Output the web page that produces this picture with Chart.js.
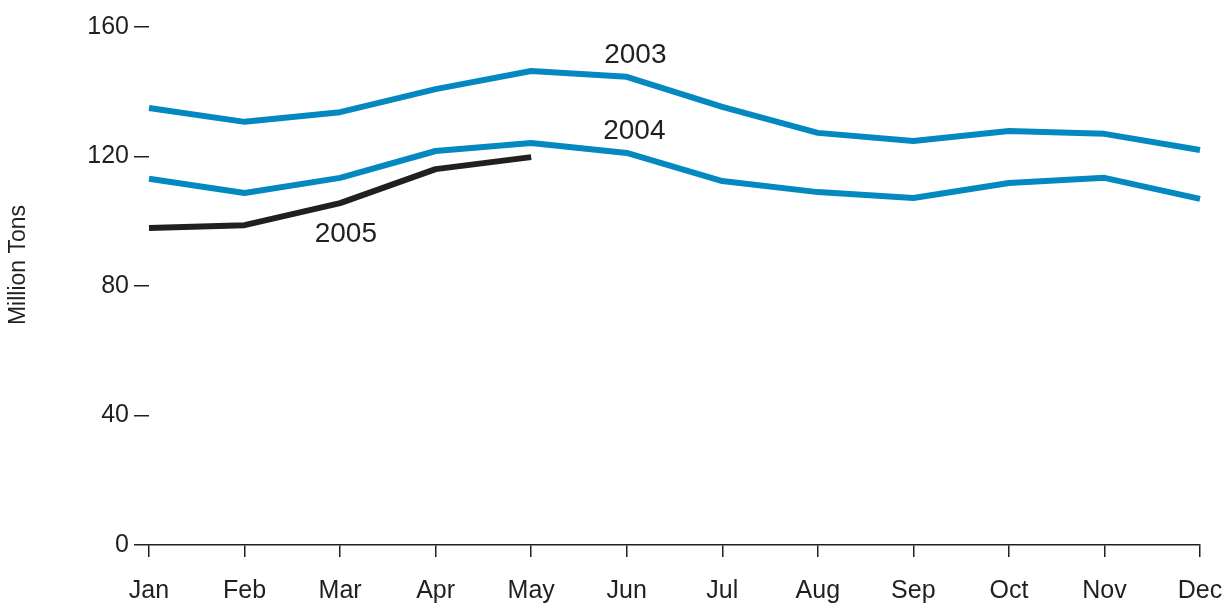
<!DOCTYPE html>
<html>
<head>
<meta charset="utf-8">
<script src="https://cdn.jsdelivr.net/npm/chart.js@4"></script>
<style>
  html, body { margin: 0; padding: 0; background: #fff; }
  #wrap { width: 1228px; height: 603px; position: relative; }
</style>
</head>
<body>
<div id="wrap"><canvas id="myChart"></canvas></div>
<script>
// months on the x axis
var months = ['Jan', 'Feb', 'Mar', 'Apr', 'May', 'Jun', 'Jul', 'Aug', 'Sep', 'Oct', 'Nov', 'Dec'];

// million tons
var y2003 = [135.0, 130.7, 133.7, 140.8, 146.4, 144.6, 135.3, 127.3, 124.8, 127.9, 127.0, 122.0];
var y2004 = [113.1, 108.7, 113.4, 121.7, 124.2, 121.1, 112.4, 109.0, 107.2, 111.8, 113.4, 106.9];
var y2005 = [97.9, 98.8, 105.6, 116.1, 119.8];

var yTicks = [0, 40, 80, 120, 160];

// series labels, placed in data units (month index, value)
var seriesLabels = [
    { text: '2003', month: 5.09, value: 151.3 },
    { text: '2004', month: 5.08, value: 127.9 },
    { text: '2005', month: 2.06, value: 96.1 }
];

var ink = '#231f20';
var blue = '#0389c0';
var font = 'Liberation Sans, Arial, Helvetica, sans-serif';

// draws the year labels and the rotated y title
var textPlugin = {
    id: 'textPlugin',
    afterDatasetsDraw: function(chart) {
        var ctx = chart.ctx;
        var xs = chart.scales.x, ys = chart.scales.y;
        ctx.save();
        ctx.fillStyle = ink;
        ctx.font = '28px ' + font;
        ctx.textAlign = 'center';
        ctx.textBaseline = 'middle';
        seriesLabels.forEach(function(l) {
            ctx.fillText(l.text, xs.getPixelForValue(l.month), ys.getPixelForValue(l.value));
        });
        ctx.font = '23px ' + font;
        ctx.translate(19, 265);
        ctx.rotate(-Math.PI / 2);
        ctx.fillText('Million Tons', 0, 0);
        ctx.restore();
    }
};

var ctx = document.getElementById('myChart').getContext('2d');
var myChart = new Chart(ctx, {
    type: 'line',
    data: {
        labels: months,
        datasets: [
            { label: '2003', data: y2003, borderColor: blue },
            { label: '2004', data: y2004, borderColor: blue },
            { label: '2005', data: y2005, borderColor: ink }
        ]
    },
    options: {
        responsive: true,
        maintainAspectRatio: false,
        animation: false,
        layout: { padding: { top: 27, right: 28, left: 0, bottom: 0 } },
        elements: {
            line: { borderWidth: 6, tension: 0, borderCapStyle: 'butt', borderJoinStyle: 'round', fill: false },
            point: { radius: 0, hoverRadius: 0 }
        },
        plugins: {
            legend: { display: false },
            tooltip: { enabled: false }
        },
        scales: {
            x: {
                offset: false,
                afterFit: function(scale) {
                    scale.height = 58;
                    scale.paddingLeft = 0;
                    scale.paddingRight = 0;
                },
                border: { display: true, color: ink, width: 1.5 },
                grid: { drawOnChartArea: false, tickLength: 12, color: ink, lineWidth: 1.5 },
                ticks: { color: ink, font: { family: font, size: 25 }, padding: 19, maxRotation: 0, autoSkip: false }
            },
            y: {
                min: 0,
                max: 160,
                afterFit: function(scale) {
                    scale.width = 149;
                    scale.paddingTop = 0;
                    scale.paddingBottom = 0;
                },
                afterBuildTicks: function(scale) {
                    scale.ticks = yTicks.map(function(v) { return { value: v }; });
                },
                border: { display: false },
                grid: { drawOnChartArea: false, tickLength: 15, color: ink, lineWidth: 1.5 },
                ticks: { color: ink, font: { family: font, size: 25 }, padding: 5 }
            }
        }
    },
    plugins: [textPlugin]
});
</script>
</body>
</html>
